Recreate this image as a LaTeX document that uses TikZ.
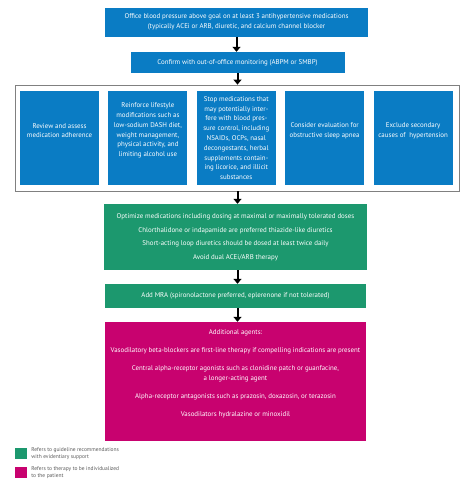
\documentclass[tikz,border=0pt]{standalone}
\usepackage{fontspec}
\setmainfont{PT Sans}
\usetikzlibrary{arrows.meta}
\usetikzlibrary{positioning}

\definecolor{stepblue}{RGB}{10,124,196}
\definecolor{stepgreen}{RGB}{28,152,110}
\definecolor{stepmagenta}{RGB}{200,2,111}

\begin{document}
\begin{tikzpicture} [x = 1pt, y = -1pt,
    box/.style = {inner sep = 0pt, text = white, align = center,
        font = \fontsize{6.9}{10}\selectfont},
    bluebox/.style = {box, fill = stepblue, minimum width = 79pt,
        minimum height = 94pt},
    bluetext/.style = {box, font = \fontsize{6.9}{9.8}\selectfont},
    flow/.style = {-{Triangle[width = 8pt, length = 5pt]}, line width = 2pt},
    legend/.style = {inner sep = 0pt, anchor = west, align = left,
        text = black!65, font = \fontsize{5.5}{6.3}\selectfont}]

\useasboundingbox (0,0) rectangle (474,482);

% office blood pressure
\node (office) [box, fill = stepblue, minimum width = 263pt,
    minimum height = 29pt] at (236.5, 22)
    {Office blood pressure above goal on at least 3 antihypertensive medications\\
     (typically ACEi or ARB, diuretic, and calcium channel blocker};

% confirm
\node (confirm) [box, fill = stepblue, minimum width = 214pt,
    minimum height = 21pt] at (237.5, 62.5)
    {Confirm with out-of-office monitoring (ABPM or SMBP)};

% frame round the five steps
\node (frame) [draw = gray, line width = .8pt, fill = white,
    minimum width = 444pt, minimum height = 106pt] at (237, 138) {};

\node (adherence) [bluebox] at (59.5, 138) {};
\node (lifestyle) [bluebox, right = 9pt of adherence] {};
\node (stopmeds) [bluebox, right = 9pt of lifestyle] {};
\node (apnea) [bluebox, right = 9pt of stopmeds] {};
\node (secondary) [bluebox, right = 9pt of apnea] {};

\node (adherencetext) [bluetext] at ([yshift = 7.5pt] adherence.center)
    {Review and assess\\medication adherence};
\node (lifestyletext) [bluetext] at ([yshift = 7.5pt] lifestyle.center)
    {Reinforce lifestyle\\modifications such as\\low-sodium DASH diet,\\
     weight management,\\physical activity, and\\limiting alcohol use};
\node (stopmedstext) [bluetext] at (stopmeds.center)
    {Stop medications that\\may potentially inter-\\fere with blood pres-\\
     sure control, including\\NSAIDs, OCPs, nasal\\decongestants, herbal\\
     supplements contain-\\ing licorice, and illicit\\substances};
\node (apneatext) [bluetext] at ([yshift = 7.5pt] apnea.center)
    {Consider evaluation for\\obstructive sleep apnea};
\node (secondarytext) [bluetext] at ([yshift = 7.5pt] secondary.center)
    {Exclude secondary\\causes of\ \ hypertension};

% optimize
\node (optimize) [box, fill = stepgreen, minimum width = 263pt,
    minimum height = 66pt] at (235.5, 237)
    {Optimize medications including dosing at maximal or maximally tolerated doses\\[3.5pt]
     Chlorthalidone or indapamide are preferred thiazide-like diuretics\\[3.5pt]
     Short-acting loop diuretics should be dosed at least twice daily\\[3.5pt]
     Avoid dual ACEi/ARB therapy};

% mra
\node (mra) [box, fill = stepgreen, minimum width = 261pt,
    minimum height = 24pt] at (235.5, 296)
    {Add MRA (spironolactone preferred, eplerenone if not tolerated)};

% additional agents
\node (agents) [box, fill = stepmagenta, minimum width = 261pt,
    minimum height = 119pt] at (235.5, 381.5) {};
\node (agentstext) [box, font = \fontsize{6.9}{10.4}\selectfont]
    at ([yshift = 8pt] agents.center)
    {Additional agents:\\[7.5pt]
     Vasodilatory beta-blockers are first-line therapy if compelling indications are present\\[7.5pt]
     Central alpha-receptor agonists such as clonidine patch or guanfacine,\\
     a longer-acting agent\\[7.5pt]
     Alpha-receptor antagonists such as prazosin, doxazosin, or terazosin\\[7.5pt]
     Vasodilators hydralazine or minoxidil};

% arrows
\draw [flow] (office.south) -- (office.south |- confirm.north);
\draw [flow] (confirm.south) -- (confirm.south |- frame.north);
\draw [flow] (frame.south -| confirm.south) -- (confirm.south |- optimize.north);
\draw [flow] (optimize.south -| confirm.south) -- (confirm.south |- mra.north);
\draw [flow] (mra.south -| confirm.south) -- (confirm.south |- agents.north);

% legend
\node (greenkey) [fill = stepgreen, minimum width = 12pt, minimum height = 11pt,
    inner sep = 0pt] at (21, 453.5) {};
\node (magentakey) [fill = stepmagenta, minimum width = 12pt, minimum height = 11pt,
    inner sep = 0pt] at (21, 472.5) {};
\node (greenlabel) [legend, right = 4pt of greenkey.north east, anchor = north west]
    {Refers to guideline recommendations\\with evidentiary support};
\node (magentalabel) [legend, right = 4pt of magentakey.north east, anchor = north west]
    {Refers to therapy to be individualized\\to the patient};

\end{tikzpicture}
\end{document}
